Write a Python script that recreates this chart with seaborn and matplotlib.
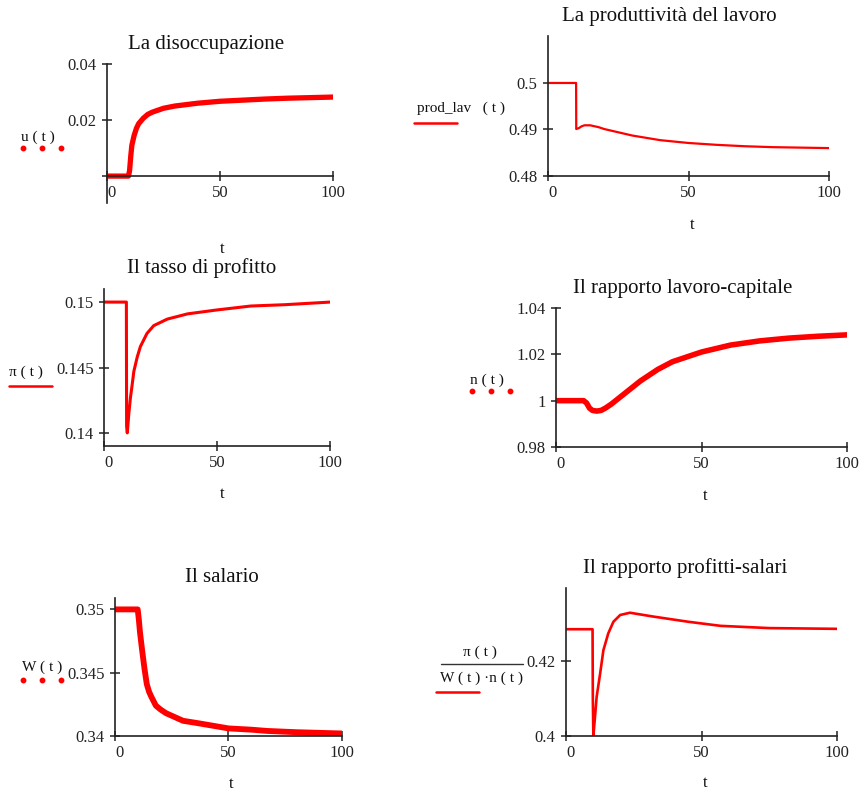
import matplotlib
matplotlib.use("Agg")
import matplotlib.pyplot as plt
from matplotlib.lines import Line2D
import seaborn as sns

sns.set_theme(style="white")
plt.rcParams["font.family"] = ["Liberation Serif", "DejaVu Serif"]
plt.rcParams["mathtext.fontset"] = "stix"

# ---- time grid and series -------------------------------------------------
t_u = [0, 9.5, 10, 10.5, 11, 12, 13, 14, 16, 18, 20, 25, 30, 40, 50, 60, 70, 80, 90, 100]
u = [0, 0, 0.002, 0.007, 0.011, 0.0145, 0.017, 0.0187, 0.0206, 0.022, 0.0228, 0.0242,
     0.025, 0.026, 0.0267, 0.0271, 0.0275, 0.0278, 0.028, 0.0282]

t_prod = [0, 10, 10.05, 11, 12, 13, 15, 18, 20, 25, 30, 35, 40, 50, 60, 70, 80, 90, 100]
prod_lav = [0.5, 0.5, 0.4901, 0.4903, 0.4907, 0.4909, 0.4909, 0.4905, 0.4901, 0.4894,
            0.4887, 0.4882, 0.4877, 0.4871, 0.4867, 0.4864, 0.4862, 0.4861, 0.486]

t_pi = [0, 9.9, 10.0, 10.3, 11, 11.7, 12.4, 13.2, 14.7, 16.1, 19, 22, 28, 37, 50, 65, 80, 100]
pi = [0.15, 0.15, 0.1405, 0.14, 0.1415, 0.1427, 0.1436, 0.1447, 0.1458, 0.1466, 0.1476,
      0.1482, 0.1487, 0.1491, 0.1494, 0.1497, 0.1498, 0.15]

t_n = [0, 9.5, 10.5, 11.5, 12.5, 14, 15.5, 17, 19, 21, 25, 29, 35, 40, 50, 60, 70, 80, 90, 100]
n = [1.0, 1.0, 0.999, 0.9968, 0.9958, 0.9955, 0.9958, 0.9968, 0.9985, 1.0005, 1.0045,
     1.0085, 1.0135, 1.0168, 1.021, 1.024, 1.0258, 1.027, 1.0278, 1.0284]

t_w = [0, 10, 10.5, 11, 12, 13, 14, 15, 16, 18, 20, 22.5, 25, 30, 37, 50, 60, 67, 80, 100]
W = [0.35, 0.35, 0.3492, 0.3482, 0.3467, 0.3453, 0.3441, 0.3435, 0.3431, 0.3424, 0.3421,
     0.3418, 0.3416, 0.3412, 0.341, 0.3406, 0.3405, 0.3404, 0.3403, 0.3402]

t_r = [0, 9.8, 9.9, 10.1, 10.7, 11.3, 12.6, 13.8, 15.6, 17.5, 20, 23.6, 32, 45, 57, 75, 100]
ratio = [0.4285, 0.4285, 0.41, 0.4, 0.4051, 0.4104, 0.4167, 0.4229, 0.4274, 0.4305, 0.4323,
         0.4329, 0.4319, 0.4305, 0.4294, 0.4288, 0.4286]

x_ticks = [0, 50, 100]
x_tick_labels = ["0", "50", "100"]

# ---- figure layout helpers -------------------------------------------------
FW, FH = 867, 793
fig = plt.figure(figsize=(FW / 100, FH / 100), dpi=100)


def box(l, t, r, b):
    return [l / FW, 1 - b / FH, (r - l) / FW, (b - t) / FH]


def fx(x):
    return x / FW


def fy(y):
    return 1 - y / FH


RED = "#ff0000"
AXC = "#222222"


def panel(rect, t, y, lw, ylim, yticks, ylabels, bottom_at=None):
    ax = fig.add_axes(box(*rect))
    sns.lineplot(x=t, y=y, ax=ax, color=RED, lw=lw, estimator=None, sort=False)
    ax.set_xlim(0, 100)
    ax.set_ylim(*ylim)
    ax.set_xticks(x_ticks)
    ax.set_xticklabels(x_tick_labels)
    ax.set_yticks(yticks)
    ax.set_yticklabels(ylabels)
    ax.set_xlabel("")
    ax.set_ylabel("")
    for s in ["top", "right"]:
        ax.spines[s].set_visible(False)
    for s in ["left", "bottom"]:
        ax.spines[s].set_color(AXC)
        ax.spines[s].set_linewidth(1.2)
    if bottom_at is not None:
        ax.spines["bottom"].set_position(("data", bottom_at))
    ax.tick_params(axis="both", direction="inout", length=7, width=1.1,
                   color=AXC, labelsize=12, labelcolor=AXC,
                   bottom=True, left=True, top=False, right=False)
    ax.tick_params(axis="x", pad=3)
    ax.tick_params(axis="y", pad=4)
    lbl = ax.get_xticklabels()[0]
    lbl.set_horizontalalignment("left")
    return ax


def dots(xs, y):
    fig.add_artist(Line2D([fx(x) for x in xs], [fy(y)] * len(xs), transform=fig.transFigure,
                          linestyle="none", marker="o", markersize=3.2, color=RED))


def dash(x0, x1, y):
    fig.add_artist(Line2D([fx(x0), fx(x1)], [fy(y), fy(y)], transform=fig.transFigure,
                          color=RED, lw=1.8))


def ftext(x, y, s, size=14, **kw):
    fig.text(fx(x), fy(y), s, ha="center", va="center", fontsize=size, color="#111111", **kw)


# ---- panels ----------------------------------------------------------------
panel((107, 64, 333, 203), t_u, u, 3.8, (-0.0096, 0.04), [0, 0.02, 0.04],
      ["", "0.02", "0.04"], bottom_at=0)
panel((548, 36, 829, 176), t_prod, prod_lav, 1.6, (0.48, 0.5101), [0.48, 0.49, 0.5],
      ["0.48", "0.49", "0.5"])
panel((104, 289, 330, 446), t_pi, pi, 2.2, (0.139, 0.151), [0.14, 0.145, 0.15],
      ["0.14", "0.145", "0.15"])
panel((556, 308, 847, 447), t_n, n, 4.0, (0.98, 1.04), [0.98, 1.0, 1.02, 1.04],
      ["0.98", "1", "1.02", "1.04"])
panel((115, 598, 342, 736), t_w, W, 4.2, (0.34, 0.3509), [0.34, 0.345, 0.35],
      ["0.34", "0.345", "0.35"])
panel((566, 588, 837, 736), t_r, ratio, 1.9, (0.4, 0.4395), [0.4, 0.42],
      ["0.4", "0.42"])

# ---- titles ----------------------------------------------------------------
ftext(206, 45, "La disoccupazione", 15)
ftext(669, 17, "La produttività del lavoro", 15)
ftext(202, 268, "Il tasso di profitto", 15)
ftext(683, 288, "Il rapporto lavoro-capitale", 15)
ftext(222, 577, "Il salario", 15)
ftext(685, 568, "Il rapporto profitti-salari", 15)

# ---- x-axis labels ---------------------------------------------------------
for (x, y) in [(222, 249), (692, 225), (222, 494), (705, 496), (231, 784), (705, 783)]:
    ftext(x, y, "t", 12)

# ---- trace labels with their line-style keys --------------------------------
ftext(38, 137, "u ( t )", 11)
dots([22.7, 42, 61], 148)

ftext(461, 108, "prod_lav   ( t )", 11)
dash(414, 457, 122.5)

ftext(26, 372, "π ( t )", 11)
dash(9, 52, 385.5)

ftext(487, 380, "n ( t )", 11)
dots([471.7, 491, 510], 391)

ftext(42, 667, "W ( t )", 11)
dots([22.7, 42, 61], 680)

ftext(480, 652.5, "π ( t )", 11)
fig.add_artist(Line2D([fx(441), fx(523)], [fy(664), fy(664)], transform=fig.transFigure,
                      color="#333333", lw=1.0))
ftext(481, 678, "W ( t ) ·n ( t )", 11)
dash(436, 479, 692)

fig.savefig("out.png", dpi=100)
